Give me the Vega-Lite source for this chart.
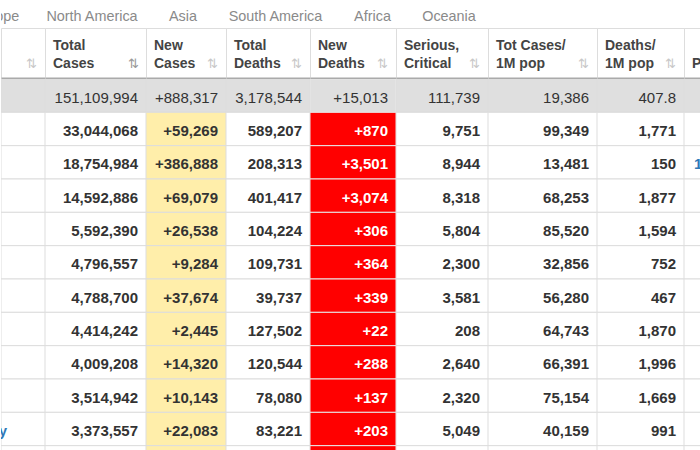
{
  "$schema": "https://vega.github.io/schema/vega-lite/v6.json",
  "padding": 0,
  "autosize": {"type": "pad"},
  "background": "#ffffff",
  "spacing": 0,
  "config": {"view": {"stroke": null}, "font": "Liberation Sans", "concat": {"spacing": 0}},
  "datasets": {
    "tabs": [
      {"i": 0, "name": "Europe"},
      {"i": 1, "name": "North America"},
      {"i": 2, "name": "Asia"},
      {"i": 3, "name": "South America"},
      {"i": 4, "name": "Africa"},
      {"i": 5, "name": "Oceania"}
    ],
    "heads": [
      {"key": "country", "l1": "Country,", "l2": "Other", "active": false},
      {"key": "totalCases", "l1": "Total", "l2": "Cases", "active": true},
      {"key": "newCases", "l1": "New", "l2": "Cases", "active": false},
      {"key": "totalDeaths", "l1": "Total", "l2": "Deaths", "active": false},
      {"key": "newDeaths", "l1": "New", "l2": "Deaths", "active": false},
      {"key": "serious", "l1": "Serious,", "l2": "Critical", "active": false},
      {"key": "casesPerM", "l1": "Tot Cases/", "l2": "1M pop", "active": false},
      {"key": "deathsPerM", "l1": "Deaths/", "l2": "1M pop", "active": false},
      {"key": "population", "l1": "", "l2": "Population", "active": false}
    ],
    "rows": [
      {"rank": 0, "country": "World", "totalCases": 151109994, "newCases": 888317, "totalDeaths": 3178544, "newDeaths": 15013, "serious": 111739, "casesPerM": 19386, "deathsPerM": 407.8},
      {"rank": 1, "country": "USA", "totalCases": 33044068, "newCases": 59269, "totalDeaths": 589207, "newDeaths": 870, "serious": 9751, "casesPerM": 99349, "deathsPerM": 1771, "population": 332475723},
      {"rank": 2, "country": "India", "totalCases": 18754984, "newCases": 386888, "totalDeaths": 208313, "newDeaths": 3501, "serious": 8944, "casesPerM": 13481, "deathsPerM": 150, "population": 1388888578},
      {"rank": 3, "country": "Brazil", "totalCases": 14592886, "newCases": 69079, "totalDeaths": 401417, "newDeaths": 3074, "serious": 8318, "casesPerM": 68253, "deathsPerM": 1877, "population": 213583750},
      {"rank": 4, "country": "France", "totalCases": 5592390, "newCases": 26538, "totalDeaths": 104224, "newDeaths": 306, "serious": 5804, "casesPerM": 85520, "deathsPerM": 1594, "population": 65386339},
      {"rank": 5, "country": "Russia", "totalCases": 4796557, "newCases": 9284, "totalDeaths": 109731, "newDeaths": 364, "serious": 2300, "casesPerM": 32856, "deathsPerM": 752, "population": 145991127},
      {"rank": 6, "country": "Turkey", "totalCases": 4788700, "newCases": 37674, "totalDeaths": 39737, "newDeaths": 339, "serious": 3581, "casesPerM": 56280, "deathsPerM": 467, "population": 85014521},
      {"rank": 7, "country": "UK", "totalCases": 4414242, "newCases": 2445, "totalDeaths": 127502, "newDeaths": 22, "serious": 208, "casesPerM": 64743, "deathsPerM": 1870, "population": 68185023},
      {"rank": 8, "country": "Italy", "totalCases": 4009208, "newCases": 14320, "totalDeaths": 120544, "newDeaths": 288, "serious": 2640, "casesPerM": 66391, "deathsPerM": 1996, "population": 60391364},
      {"rank": 9, "country": "Spain", "totalCases": 3514942, "newCases": 10143, "totalDeaths": 78080, "newDeaths": 137, "serious": 2320, "casesPerM": 75154, "deathsPerM": 1669, "population": 46761049},
      {"rank": 10, "country": "Germany", "totalCases": 3373557, "newCases": 22083, "totalDeaths": 83221, "newDeaths": 203, "serious": 5049, "casesPerM": 40159, "deathsPerM": 991, "population": 83994262},
      {"rank": 11}
    ]
  },
  "vconcat": [
    {
      "width": 700, "height": 27,
      "data": {"name": "tabs"},
      "mark": {"type": "text", "fontSize": 14.4, "color": "#8a8a8a", "clip": true, "dy": 3},
      "encoding": {
        "x": {"field": "i", "type": "quantitative", "scale": {"domain": [0, 1, 2, 3, 4, 5], "range": [-5, 91, 182, 274.5, 371.5, 448], "nice": false, "zero": false}, "axis": null},
        "text": {"field": "name", "type": "nominal"}
      }
    },
    {
      "bounds": "flush",
      "hconcat": [
        {
          "width": 44, "height": 50, "view": {"stroke": "#dddddd"},
          "data": {"name": "heads"}, "transform": [{"filter": "datum.key === 'country'"}],
          "layer": [
            {"mark": {"type": "text", "align": "left", "dx": -67, "dy": 2, "fontSize": 14, "fontWeight": "bold", "color": "#444444", "clip": true},
             "encoding": {"x": {"datum": 0, "type": "quantitative", "scale": {"domain": [0, 1]}, "axis": {"title": null, "labels": false, "ticks": false, "grid": false, "domainColor": "#aaaaaa", "domainWidth": 2}},
                          "y": {"datum": "a", "type": "nominal", "scale": {"type": "band", "domain": ["a", "b"], "paddingInner": 0, "paddingOuter": 0.45}, "axis": null},
                          "text": {"field": "l1", "type": "nominal"}}},
            {"mark": {"type": "text", "align": "left", "dx": -67, "dy": 2, "fontSize": 14, "fontWeight": "bold", "color": "#444444", "clip": true},
             "encoding": {"x": {"datum": 0, "type": "quantitative", "scale": {"domain": [0, 1]}, "axis": {"title": null, "labels": false, "ticks": false, "grid": false, "domainColor": "#aaaaaa", "domainWidth": 2}},
                          "y": {"datum": "b", "type": "nominal", "scale": {"type": "band", "domain": ["a", "b"], "paddingInner": 0, "paddingOuter": 0.45}, "axis": null},
                          "text": {"field": "l2", "type": "nominal"}}},
            {"mark": {"type": "text", "align": "right", "dx": -8, "dy": 2, "fontSize": 13, "font": "DejaVu Sans", "clip": true},
             "encoding": {"x": {"datum": 1, "type": "quantitative", "scale": {"domain": [0, 1]}, "axis": {"title": null, "labels": false, "ticks": false, "grid": false, "domainColor": "#aaaaaa", "domainWidth": 2}},
                          "y": {"datum": "b", "type": "nominal", "scale": {"type": "band", "domain": ["a", "b"], "paddingInner": 0, "paddingOuter": 0.45}, "axis": null},
                          "text": {"value": "⇅"},
                          "color": {"condition": {"test": "datum.active", "value": "#999999"}, "value": "#c8c8c8"}}}
          ]
        },
        {
          "width": 101, "height": 50, "view": {"stroke": "#dddddd"},
          "data": {"name": "heads"}, "transform": [{"filter": "datum.key === 'totalCases'"}],
          "layer": [
            {"mark": {"type": "text", "align": "left", "dx": 8, "dy": 2, "fontSize": 14, "fontWeight": "bold", "color": "#444444", "clip": true},
             "encoding": {"x": {"datum": 0, "type": "quantitative", "scale": {"domain": [0, 1]}, "axis": {"title": null, "labels": false, "ticks": false, "grid": false, "domainColor": "#aaaaaa", "domainWidth": 2}},
                          "y": {"datum": "a", "type": "nominal", "scale": {"type": "band", "domain": ["a", "b"], "paddingInner": 0, "paddingOuter": 0.45}, "axis": null},
                          "text": {"field": "l1", "type": "nominal"}}},
            {"mark": {"type": "text", "align": "left", "dx": 8, "dy": 2, "fontSize": 14, "fontWeight": "bold", "color": "#444444", "clip": true},
             "encoding": {"x": {"datum": 0, "type": "quantitative", "scale": {"domain": [0, 1]}, "axis": {"title": null, "labels": false, "ticks": false, "grid": false, "domainColor": "#aaaaaa", "domainWidth": 2}},
                          "y": {"datum": "b", "type": "nominal", "scale": {"type": "band", "domain": ["a", "b"], "paddingInner": 0, "paddingOuter": 0.45}, "axis": null},
                          "text": {"field": "l2", "type": "nominal"}}},
            {"mark": {"type": "text", "align": "right", "dx": -7, "dy": 2, "fontSize": 13, "font": "DejaVu Sans", "clip": true},
             "encoding": {"x": {"datum": 1, "type": "quantitative", "scale": {"domain": [0, 1]}, "axis": {"title": null, "labels": false, "ticks": false, "grid": false, "domainColor": "#aaaaaa", "domainWidth": 2}},
                          "y": {"datum": "b", "type": "nominal", "scale": {"type": "band", "domain": ["a", "b"], "paddingInner": 0, "paddingOuter": 0.45}, "axis": null},
                          "text": {"value": "⇅"},
                          "color": {"condition": {"test": "datum.active", "value": "#999999"}, "value": "#c8c8c8"}}}
          ]
        },
        {
          "width": 80, "height": 50, "view": {"stroke": "#dddddd"},
          "data": {"name": "heads"}, "transform": [{"filter": "datum.key === 'newCases'"}],
          "layer": [
            {"mark": {"type": "text", "align": "left", "dx": 8, "dy": 2, "fontSize": 14, "fontWeight": "bold", "color": "#444444", "clip": true},
             "encoding": {"x": {"datum": 0, "type": "quantitative", "scale": {"domain": [0, 1]}, "axis": {"title": null, "labels": false, "ticks": false, "grid": false, "domainColor": "#aaaaaa", "domainWidth": 2}},
                          "y": {"datum": "a", "type": "nominal", "scale": {"type": "band", "domain": ["a", "b"], "paddingInner": 0, "paddingOuter": 0.45}, "axis": null},
                          "text": {"field": "l1", "type": "nominal"}}},
            {"mark": {"type": "text", "align": "left", "dx": 8, "dy": 2, "fontSize": 14, "fontWeight": "bold", "color": "#444444", "clip": true},
             "encoding": {"x": {"datum": 0, "type": "quantitative", "scale": {"domain": [0, 1]}, "axis": {"title": null, "labels": false, "ticks": false, "grid": false, "domainColor": "#aaaaaa", "domainWidth": 2}},
                          "y": {"datum": "b", "type": "nominal", "scale": {"type": "band", "domain": ["a", "b"], "paddingInner": 0, "paddingOuter": 0.45}, "axis": null},
                          "text": {"field": "l2", "type": "nominal"}}},
            {"mark": {"type": "text", "align": "right", "dx": -8, "dy": 2, "fontSize": 13, "font": "DejaVu Sans", "clip": true},
             "encoding": {"x": {"datum": 1, "type": "quantitative", "scale": {"domain": [0, 1]}, "axis": {"title": null, "labels": false, "ticks": false, "grid": false, "domainColor": "#aaaaaa", "domainWidth": 2}},
                          "y": {"datum": "b", "type": "nominal", "scale": {"type": "band", "domain": ["a", "b"], "paddingInner": 0, "paddingOuter": 0.45}, "axis": null},
                          "text": {"value": "⇅"},
                          "color": {"condition": {"test": "datum.active", "value": "#999999"}, "value": "#c8c8c8"}}}
          ]
        },
        {
          "width": 84, "height": 50, "view": {"stroke": "#dddddd"},
          "data": {"name": "heads"}, "transform": [{"filter": "datum.key === 'totalDeaths'"}],
          "layer": [
            {"mark": {"type": "text", "align": "left", "dx": 8, "dy": 2, "fontSize": 14, "fontWeight": "bold", "color": "#444444", "clip": true},
             "encoding": {"x": {"datum": 0, "type": "quantitative", "scale": {"domain": [0, 1]}, "axis": {"title": null, "labels": false, "ticks": false, "grid": false, "domainColor": "#aaaaaa", "domainWidth": 2}},
                          "y": {"datum": "a", "type": "nominal", "scale": {"type": "band", "domain": ["a", "b"], "paddingInner": 0, "paddingOuter": 0.45}, "axis": null},
                          "text": {"field": "l1", "type": "nominal"}}},
            {"mark": {"type": "text", "align": "left", "dx": 8, "dy": 2, "fontSize": 14, "fontWeight": "bold", "color": "#444444", "clip": true},
             "encoding": {"x": {"datum": 0, "type": "quantitative", "scale": {"domain": [0, 1]}, "axis": {"title": null, "labels": false, "ticks": false, "grid": false, "domainColor": "#aaaaaa", "domainWidth": 2}},
                          "y": {"datum": "b", "type": "nominal", "scale": {"type": "band", "domain": ["a", "b"], "paddingInner": 0, "paddingOuter": 0.45}, "axis": null},
                          "text": {"field": "l2", "type": "nominal"}}},
            {"mark": {"type": "text", "align": "right", "dx": -8, "dy": 2, "fontSize": 13, "font": "DejaVu Sans", "clip": true},
             "encoding": {"x": {"datum": 1, "type": "quantitative", "scale": {"domain": [0, 1]}, "axis": {"title": null, "labels": false, "ticks": false, "grid": false, "domainColor": "#aaaaaa", "domainWidth": 2}},
                          "y": {"datum": "b", "type": "nominal", "scale": {"type": "band", "domain": ["a", "b"], "paddingInner": 0, "paddingOuter": 0.45}, "axis": null},
                          "text": {"value": "⇅"},
                          "color": {"condition": {"test": "datum.active", "value": "#999999"}, "value": "#c8c8c8"}}}
          ]
        },
        {
          "width": 86, "height": 50, "view": {"stroke": "#dddddd"},
          "data": {"name": "heads"}, "transform": [{"filter": "datum.key === 'newDeaths'"}],
          "layer": [
            {"mark": {"type": "text", "align": "left", "dx": 8, "dy": 2, "fontSize": 14, "fontWeight": "bold", "color": "#444444", "clip": true},
             "encoding": {"x": {"datum": 0, "type": "quantitative", "scale": {"domain": [0, 1]}, "axis": {"title": null, "labels": false, "ticks": false, "grid": false, "domainColor": "#aaaaaa", "domainWidth": 2}},
                          "y": {"datum": "a", "type": "nominal", "scale": {"type": "band", "domain": ["a", "b"], "paddingInner": 0, "paddingOuter": 0.45}, "axis": null},
                          "text": {"field": "l1", "type": "nominal"}}},
            {"mark": {"type": "text", "align": "left", "dx": 8, "dy": 2, "fontSize": 14, "fontWeight": "bold", "color": "#444444", "clip": true},
             "encoding": {"x": {"datum": 0, "type": "quantitative", "scale": {"domain": [0, 1]}, "axis": {"title": null, "labels": false, "ticks": false, "grid": false, "domainColor": "#aaaaaa", "domainWidth": 2}},
                          "y": {"datum": "b", "type": "nominal", "scale": {"type": "band", "domain": ["a", "b"], "paddingInner": 0, "paddingOuter": 0.45}, "axis": null},
                          "text": {"field": "l2", "type": "nominal"}}},
            {"mark": {"type": "text", "align": "right", "dx": -8, "dy": 2, "fontSize": 13, "font": "DejaVu Sans", "clip": true},
             "encoding": {"x": {"datum": 1, "type": "quantitative", "scale": {"domain": [0, 1]}, "axis": {"title": null, "labels": false, "ticks": false, "grid": false, "domainColor": "#aaaaaa", "domainWidth": 2}},
                          "y": {"datum": "b", "type": "nominal", "scale": {"type": "band", "domain": ["a", "b"], "paddingInner": 0, "paddingOuter": 0.45}, "axis": null},
                          "text": {"value": "⇅"},
                          "color": {"condition": {"test": "datum.active", "value": "#999999"}, "value": "#c8c8c8"}}}
          ]
        },
        {
          "width": 92, "height": 50, "view": {"stroke": "#dddddd"},
          "data": {"name": "heads"}, "transform": [{"filter": "datum.key === 'serious'"}],
          "layer": [
            {"mark": {"type": "text", "align": "left", "dx": 8, "dy": 2, "fontSize": 14, "fontWeight": "bold", "color": "#444444", "clip": true},
             "encoding": {"x": {"datum": 0, "type": "quantitative", "scale": {"domain": [0, 1]}, "axis": {"title": null, "labels": false, "ticks": false, "grid": false, "domainColor": "#aaaaaa", "domainWidth": 2}},
                          "y": {"datum": "a", "type": "nominal", "scale": {"type": "band", "domain": ["a", "b"], "paddingInner": 0, "paddingOuter": 0.45}, "axis": null},
                          "text": {"field": "l1", "type": "nominal"}}},
            {"mark": {"type": "text", "align": "left", "dx": 8, "dy": 2, "fontSize": 14, "fontWeight": "bold", "color": "#444444", "clip": true},
             "encoding": {"x": {"datum": 0, "type": "quantitative", "scale": {"domain": [0, 1]}, "axis": {"title": null, "labels": false, "ticks": false, "grid": false, "domainColor": "#aaaaaa", "domainWidth": 2}},
                          "y": {"datum": "b", "type": "nominal", "scale": {"type": "band", "domain": ["a", "b"], "paddingInner": 0, "paddingOuter": 0.45}, "axis": null},
                          "text": {"field": "l2", "type": "nominal"}}},
            {"mark": {"type": "text", "align": "right", "dx": -8, "dy": 2, "fontSize": 13, "font": "DejaVu Sans", "clip": true},
             "encoding": {"x": {"datum": 1, "type": "quantitative", "scale": {"domain": [0, 1]}, "axis": {"title": null, "labels": false, "ticks": false, "grid": false, "domainColor": "#aaaaaa", "domainWidth": 2}},
                          "y": {"datum": "b", "type": "nominal", "scale": {"type": "band", "domain": ["a", "b"], "paddingInner": 0, "paddingOuter": 0.45}, "axis": null},
                          "text": {"value": "⇅"},
                          "color": {"condition": {"test": "datum.active", "value": "#999999"}, "value": "#c8c8c8"}}}
          ]
        },
        {
          "width": 109, "height": 50, "view": {"stroke": "#dddddd"},
          "data": {"name": "heads"}, "transform": [{"filter": "datum.key === 'casesPerM'"}],
          "layer": [
            {"mark": {"type": "text", "align": "left", "dx": 8, "dy": 2, "fontSize": 14, "fontWeight": "bold", "color": "#444444", "clip": true},
             "encoding": {"x": {"datum": 0, "type": "quantitative", "scale": {"domain": [0, 1]}, "axis": {"title": null, "labels": false, "ticks": false, "grid": false, "domainColor": "#aaaaaa", "domainWidth": 2}},
                          "y": {"datum": "a", "type": "nominal", "scale": {"type": "band", "domain": ["a", "b"], "paddingInner": 0, "paddingOuter": 0.45}, "axis": null},
                          "text": {"field": "l1", "type": "nominal"}}},
            {"mark": {"type": "text", "align": "left", "dx": 8, "dy": 2, "fontSize": 14, "fontWeight": "bold", "color": "#444444", "clip": true},
             "encoding": {"x": {"datum": 0, "type": "quantitative", "scale": {"domain": [0, 1]}, "axis": {"title": null, "labels": false, "ticks": false, "grid": false, "domainColor": "#aaaaaa", "domainWidth": 2}},
                          "y": {"datum": "b", "type": "nominal", "scale": {"type": "band", "domain": ["a", "b"], "paddingInner": 0, "paddingOuter": 0.45}, "axis": null},
                          "text": {"field": "l2", "type": "nominal"}}},
            {"mark": {"type": "text", "align": "right", "dx": -8, "dy": 2, "fontSize": 13, "font": "DejaVu Sans", "clip": true},
             "encoding": {"x": {"datum": 1, "type": "quantitative", "scale": {"domain": [0, 1]}, "axis": {"title": null, "labels": false, "ticks": false, "grid": false, "domainColor": "#aaaaaa", "domainWidth": 2}},
                          "y": {"datum": "b", "type": "nominal", "scale": {"type": "band", "domain": ["a", "b"], "paddingInner": 0, "paddingOuter": 0.45}, "axis": null},
                          "text": {"value": "⇅"},
                          "color": {"condition": {"test": "datum.active", "value": "#999999"}, "value": "#c8c8c8"}}}
          ]
        },
        {
          "width": 87, "height": 50, "view": {"stroke": "#dddddd"},
          "data": {"name": "heads"}, "transform": [{"filter": "datum.key === 'deathsPerM'"}],
          "layer": [
            {"mark": {"type": "text", "align": "left", "dx": 8, "dy": 2, "fontSize": 14, "fontWeight": "bold", "color": "#444444", "clip": true},
             "encoding": {"x": {"datum": 0, "type": "quantitative", "scale": {"domain": [0, 1]}, "axis": {"title": null, "labels": false, "ticks": false, "grid": false, "domainColor": "#aaaaaa", "domainWidth": 2}},
                          "y": {"datum": "a", "type": "nominal", "scale": {"type": "band", "domain": ["a", "b"], "paddingInner": 0, "paddingOuter": 0.45}, "axis": null},
                          "text": {"field": "l1", "type": "nominal"}}},
            {"mark": {"type": "text", "align": "left", "dx": 8, "dy": 2, "fontSize": 14, "fontWeight": "bold", "color": "#444444", "clip": true},
             "encoding": {"x": {"datum": 0, "type": "quantitative", "scale": {"domain": [0, 1]}, "axis": {"title": null, "labels": false, "ticks": false, "grid": false, "domainColor": "#aaaaaa", "domainWidth": 2}},
                          "y": {"datum": "b", "type": "nominal", "scale": {"type": "band", "domain": ["a", "b"], "paddingInner": 0, "paddingOuter": 0.45}, "axis": null},
                          "text": {"field": "l2", "type": "nominal"}}},
            {"mark": {"type": "text", "align": "right", "dx": -8, "dy": 2, "fontSize": 13, "font": "DejaVu Sans", "clip": true},
             "encoding": {"x": {"datum": 1, "type": "quantitative", "scale": {"domain": [0, 1]}, "axis": {"title": null, "labels": false, "ticks": false, "grid": false, "domainColor": "#aaaaaa", "domainWidth": 2}},
                          "y": {"datum": "b", "type": "nominal", "scale": {"type": "band", "domain": ["a", "b"], "paddingInner": 0, "paddingOuter": 0.45}, "axis": null},
                          "text": {"value": "⇅"},
                          "color": {"condition": {"test": "datum.active", "value": "#999999"}, "value": "#c8c8c8"}}}
          ]
        },
        {
          "width": 17, "height": 50, "view": {"stroke": "#dddddd"},
          "data": {"name": "heads"}, "transform": [{"filter": "datum.key === 'population'"}],
          "layer": [
            {"mark": {"type": "text", "align": "left", "dx": 8, "dy": 2, "fontSize": 14, "fontWeight": "bold", "color": "#444444", "clip": true},
             "encoding": {"x": {"datum": 0, "type": "quantitative", "scale": {"domain": [0, 1]}, "axis": {"title": null, "labels": false, "ticks": false, "grid": false, "domainColor": "#aaaaaa", "domainWidth": 2}},
                          "y": {"datum": "a", "type": "nominal", "scale": {"type": "band", "domain": ["a", "b"], "paddingInner": 0, "paddingOuter": 0.45}, "axis": null},
                          "text": {"field": "l1", "type": "nominal"}}},
            {"mark": {"type": "text", "align": "left", "dx": 8, "dy": 2, "fontSize": 14, "fontWeight": "bold", "color": "#444444", "clip": true},
             "encoding": {"x": {"datum": 0, "type": "quantitative", "scale": {"domain": [0, 1]}, "axis": {"title": null, "labels": false, "ticks": false, "grid": false, "domainColor": "#aaaaaa", "domainWidth": 2}},
                          "y": {"datum": "b", "type": "nominal", "scale": {"type": "band", "domain": ["a", "b"], "paddingInner": 0, "paddingOuter": 0.45}, "axis": null},
                          "text": {"field": "l2", "type": "nominal"}}}
          ]
        }
      ]
    },
    {
      "bounds": "flush",
      "hconcat": [
        {
          "width": 44, "height": 372,
          "data": {"name": "rows"},
          "encoding": {"y": {"field": "rank", "type": "ordinal", "scale": {"type": "band", "domain": [0, 1, 2, 3, 4, 5, 6, 7, 8, 9, 10, 11], "range": [0, 400], "paddingInner": 0, "paddingOuter": 0}, "axis": null}},
          "layer": [
            {"mark": {"type": "rect", "stroke": "#dddddd", "strokeWidth": 1, "clip": true},
             "encoding": {"x": {"datum": 0, "type": "quantitative", "scale": {"domain": [0, 1]}, "axis": null}, "x2": {"datum": 1},
                          "fill": {"condition": {"test": "datum.rank === 0", "value": "#dfdfdf"}, "value": "#ffffff"}}},
            {"transform": [{"filter": "datum.rank > 0 && datum.rank < 11"}],
             "mark": {"type": "text", "align": "left", "dx": -59, "dy": 2, "fontSize": 15, "fontWeight": "bold", "color": "#2f78b7", "clip": true},
             "encoding": {"x": {"datum": 0, "type": "quantitative", "scale": {"domain": [0, 1]}, "axis": null}, "text": {"field": "country", "type": "nominal"}}}
          ]
        },
        {
          "width": 101, "height": 372,
          "data": {"name": "rows"},
          "encoding": {"y": {"field": "rank", "type": "ordinal", "scale": {"type": "band", "domain": [0, 1, 2, 3, 4, 5, 6, 7, 8, 9, 10, 11], "range": [0, 400], "paddingInner": 0, "paddingOuter": 0}, "axis": null}},
          "layer": [
            {"mark": {"type": "rect", "stroke": "#dddddd", "strokeWidth": 1, "clip": true},
             "encoding": {"x": {"datum": 0, "type": "quantitative", "scale": {"domain": [0, 1]}, "axis": null}, "x2": {"datum": 1},
                          "fill": {"condition": {"test": "datum.rank === 0", "value": "#dfdfdf"}, "value": "#ffffff"}}},
            {"transform": [{"filter": "datum.rank === 0"}],
             "mark": {"type": "text", "align": "right", "dx": -8, "dy": 2, "fontSize": 15, "color": "#333333", "clip": true},
             "encoding": {"x": {"datum": 1, "type": "quantitative", "scale": {"domain": [0, 1]}, "axis": null}, "text": {"field": "totalCases", "type": "quantitative", "format": ","}}},
            {"transform": [{"filter": "datum.rank > 0 && datum.rank < 11"}],
             "mark": {"type": "text", "align": "right", "dx": -8, "dy": 2, "fontSize": 15, "fontWeight": "bold", "color": "#333333", "clip": true},
             "encoding": {"x": {"datum": 1, "type": "quantitative", "scale": {"domain": [0, 1]}, "axis": null}, "text": {"field": "totalCases", "type": "quantitative", "format": ","}}}
          ]
        },
        {
          "width": 80, "height": 372,
          "data": {"name": "rows"},
          "encoding": {"y": {"field": "rank", "type": "ordinal", "scale": {"type": "band", "domain": [0, 1, 2, 3, 4, 5, 6, 7, 8, 9, 10, 11], "range": [0, 400], "paddingInner": 0, "paddingOuter": 0}, "axis": null}},
          "layer": [
            {"mark": {"type": "rect", "stroke": "#dddddd", "strokeWidth": 1, "clip": true},
             "encoding": {"x": {"datum": 0, "type": "quantitative", "scale": {"domain": [0, 1]}, "axis": null}, "x2": {"datum": 1},
                          "fill": {"condition": {"test": "datum.rank === 0", "value": "#dfdfdf"}, "value": "#ffeeaa"}}},
            {"transform": [{"filter": "datum.rank === 0"}],
             "mark": {"type": "text", "align": "right", "dx": -8, "dy": 2, "fontSize": 15, "color": "#333333", "clip": true},
             "encoding": {"x": {"datum": 1, "type": "quantitative", "scale": {"domain": [0, 1]}, "axis": null}, "text": {"field": "newCases", "type": "quantitative", "format": "+,"}}},
            {"transform": [{"filter": "datum.rank > 0 && datum.rank < 11"}],
             "mark": {"type": "text", "align": "right", "dx": -8, "dy": 2, "fontSize": 15, "fontWeight": "bold", "color": "#333333", "clip": true},
             "encoding": {"x": {"datum": 1, "type": "quantitative", "scale": {"domain": [0, 1]}, "axis": null}, "text": {"field": "newCases", "type": "quantitative", "format": "+,"}}}
          ]
        },
        {
          "width": 84, "height": 372,
          "data": {"name": "rows"},
          "encoding": {"y": {"field": "rank", "type": "ordinal", "scale": {"type": "band", "domain": [0, 1, 2, 3, 4, 5, 6, 7, 8, 9, 10, 11], "range": [0, 400], "paddingInner": 0, "paddingOuter": 0}, "axis": null}},
          "layer": [
            {"mark": {"type": "rect", "stroke": "#dddddd", "strokeWidth": 1, "clip": true},
             "encoding": {"x": {"datum": 0, "type": "quantitative", "scale": {"domain": [0, 1]}, "axis": null}, "x2": {"datum": 1},
                          "fill": {"condition": {"test": "datum.rank === 0", "value": "#dfdfdf"}, "value": "#ffffff"}}},
            {"transform": [{"filter": "datum.rank === 0"}],
             "mark": {"type": "text", "align": "right", "dx": -8, "dy": 2, "fontSize": 15, "color": "#333333", "clip": true},
             "encoding": {"x": {"datum": 1, "type": "quantitative", "scale": {"domain": [0, 1]}, "axis": null}, "text": {"field": "totalDeaths", "type": "quantitative", "format": ","}}},
            {"transform": [{"filter": "datum.rank > 0 && datum.rank < 11"}],
             "mark": {"type": "text", "align": "right", "dx": -8, "dy": 2, "fontSize": 15, "fontWeight": "bold", "color": "#333333", "clip": true},
             "encoding": {"x": {"datum": 1, "type": "quantitative", "scale": {"domain": [0, 1]}, "axis": null}, "text": {"field": "totalDeaths", "type": "quantitative", "format": ","}}}
          ]
        },
        {
          "width": 86, "height": 372,
          "data": {"name": "rows"},
          "encoding": {"y": {"field": "rank", "type": "ordinal", "scale": {"type": "band", "domain": [0, 1, 2, 3, 4, 5, 6, 7, 8, 9, 10, 11], "range": [0, 400], "paddingInner": 0, "paddingOuter": 0}, "axis": null}},
          "layer": [
            {"mark": {"type": "rect", "stroke": "#e8e8e8", "strokeWidth": 1, "clip": true},
             "encoding": {"x": {"datum": 0, "type": "quantitative", "scale": {"domain": [0, 1]}, "axis": null}, "x2": {"datum": 1},
                          "fill": {"condition": {"test": "datum.rank === 0", "value": "#dfdfdf"}, "value": "#ff0000"}}},
            {"transform": [{"filter": "datum.rank === 0"}],
             "mark": {"type": "text", "align": "right", "dx": -8, "dy": 2, "fontSize": 15, "color": "#333333", "clip": true},
             "encoding": {"x": {"datum": 1, "type": "quantitative", "scale": {"domain": [0, 1]}, "axis": null}, "text": {"field": "newDeaths", "type": "quantitative", "format": "+,"}}},
            {"transform": [{"filter": "datum.rank > 0 && datum.rank < 11"}],
             "mark": {"type": "text", "align": "right", "dx": -8, "dy": 2, "fontSize": 15, "fontWeight": "bold", "color": "#ffffff", "clip": true},
             "encoding": {"x": {"datum": 1, "type": "quantitative", "scale": {"domain": [0, 1]}, "axis": null}, "text": {"field": "newDeaths", "type": "quantitative", "format": "+,"}}}
          ]
        },
        {
          "width": 92, "height": 372,
          "data": {"name": "rows"},
          "encoding": {"y": {"field": "rank", "type": "ordinal", "scale": {"type": "band", "domain": [0, 1, 2, 3, 4, 5, 6, 7, 8, 9, 10, 11], "range": [0, 400], "paddingInner": 0, "paddingOuter": 0}, "axis": null}},
          "layer": [
            {"mark": {"type": "rect", "stroke": "#dddddd", "strokeWidth": 1, "clip": true},
             "encoding": {"x": {"datum": 0, "type": "quantitative", "scale": {"domain": [0, 1]}, "axis": null}, "x2": {"datum": 1},
                          "fill": {"condition": {"test": "datum.rank === 0", "value": "#dfdfdf"}, "value": "#ffffff"}}},
            {"transform": [{"filter": "datum.rank === 0"}],
             "mark": {"type": "text", "align": "right", "dx": -8, "dy": 2, "fontSize": 15, "color": "#333333", "clip": true},
             "encoding": {"x": {"datum": 1, "type": "quantitative", "scale": {"domain": [0, 1]}, "axis": null}, "text": {"field": "serious", "type": "quantitative", "format": ","}}},
            {"transform": [{"filter": "datum.rank > 0 && datum.rank < 11"}],
             "mark": {"type": "text", "align": "right", "dx": -8, "dy": 2, "fontSize": 15, "fontWeight": "bold", "color": "#333333", "clip": true},
             "encoding": {"x": {"datum": 1, "type": "quantitative", "scale": {"domain": [0, 1]}, "axis": null}, "text": {"field": "serious", "type": "quantitative", "format": ","}}}
          ]
        },
        {
          "width": 109, "height": 372,
          "data": {"name": "rows"},
          "encoding": {"y": {"field": "rank", "type": "ordinal", "scale": {"type": "band", "domain": [0, 1, 2, 3, 4, 5, 6, 7, 8, 9, 10, 11], "range": [0, 400], "paddingInner": 0, "paddingOuter": 0}, "axis": null}},
          "layer": [
            {"mark": {"type": "rect", "stroke": "#dddddd", "strokeWidth": 1, "clip": true},
             "encoding": {"x": {"datum": 0, "type": "quantitative", "scale": {"domain": [0, 1]}, "axis": null}, "x2": {"datum": 1},
                          "fill": {"condition": {"test": "datum.rank === 0", "value": "#dfdfdf"}, "value": "#ffffff"}}},
            {"transform": [{"filter": "datum.rank === 0"}],
             "mark": {"type": "text", "align": "right", "dx": -8, "dy": 2, "fontSize": 15, "color": "#333333", "clip": true},
             "encoding": {"x": {"datum": 1, "type": "quantitative", "scale": {"domain": [0, 1]}, "axis": null}, "text": {"field": "casesPerM", "type": "quantitative", "format": ","}}},
            {"transform": [{"filter": "datum.rank > 0 && datum.rank < 11"}],
             "mark": {"type": "text", "align": "right", "dx": -8, "dy": 2, "fontSize": 15, "fontWeight": "bold", "color": "#333333", "clip": true},
             "encoding": {"x": {"datum": 1, "type": "quantitative", "scale": {"domain": [0, 1]}, "axis": null}, "text": {"field": "casesPerM", "type": "quantitative", "format": ","}}}
          ]
        },
        {
          "width": 87, "height": 372,
          "data": {"name": "rows"},
          "encoding": {"y": {"field": "rank", "type": "ordinal", "scale": {"type": "band", "domain": [0, 1, 2, 3, 4, 5, 6, 7, 8, 9, 10, 11], "range": [0, 400], "paddingInner": 0, "paddingOuter": 0}, "axis": null}},
          "layer": [
            {"mark": {"type": "rect", "stroke": "#dddddd", "strokeWidth": 1, "clip": true},
             "encoding": {"x": {"datum": 0, "type": "quantitative", "scale": {"domain": [0, 1]}, "axis": null}, "x2": {"datum": 1},
                          "fill": {"condition": {"test": "datum.rank === 0", "value": "#dfdfdf"}, "value": "#ffffff"}}},
            {"transform": [{"filter": "datum.rank === 0"}],
             "mark": {"type": "text", "align": "right", "dx": -8, "dy": 2, "fontSize": 15, "color": "#333333", "clip": true},
             "encoding": {"x": {"datum": 1, "type": "quantitative", "scale": {"domain": [0, 1]}, "axis": null}, "text": {"field": "deathsPerM", "type": "quantitative", "format": ","}}},
            {"transform": [{"filter": "datum.rank > 0 && datum.rank < 11"}],
             "mark": {"type": "text", "align": "right", "dx": -8, "dy": 2, "fontSize": 15, "fontWeight": "bold", "color": "#333333", "clip": true},
             "encoding": {"x": {"datum": 1, "type": "quantitative", "scale": {"domain": [0, 1]}, "axis": null}, "text": {"field": "deathsPerM", "type": "quantitative", "format": ","}}}
          ]
        },
        {
          "width": 17, "height": 372,
          "data": {"name": "rows"},
          "encoding": {"y": {"field": "rank", "type": "ordinal", "scale": {"type": "band", "domain": [0, 1, 2, 3, 4, 5, 6, 7, 8, 9, 10, 11], "range": [0, 400], "paddingInner": 0, "paddingOuter": 0}, "axis": null}},
          "layer": [
            {"mark": {"type": "rect", "stroke": "#dddddd", "strokeWidth": 1, "clip": true},
             "encoding": {"x": {"datum": 0, "type": "quantitative", "scale": {"domain": [0, 1]}, "axis": null}, "x2": {"datum": 1},
                          "fill": {"condition": {"test": "datum.rank === 0", "value": "#dfdfdf"}, "value": "#ffffff"}}},
            {"transform": [{"filter": "datum.rank > 0 && datum.rank < 11"}],
             "mark": {"type": "text", "align": "right", "dx": 89, "dy": 2, "fontSize": 15, "fontWeight": "bold", "color": "#2f78b7", "clip": true},
             "encoding": {"x": {"datum": 1, "type": "quantitative", "scale": {"domain": [0, 1]}, "axis": null}, "text": {"field": "population", "type": "quantitative", "format": ","}}}
          ]
        }
      ]
    }
  ]
}
